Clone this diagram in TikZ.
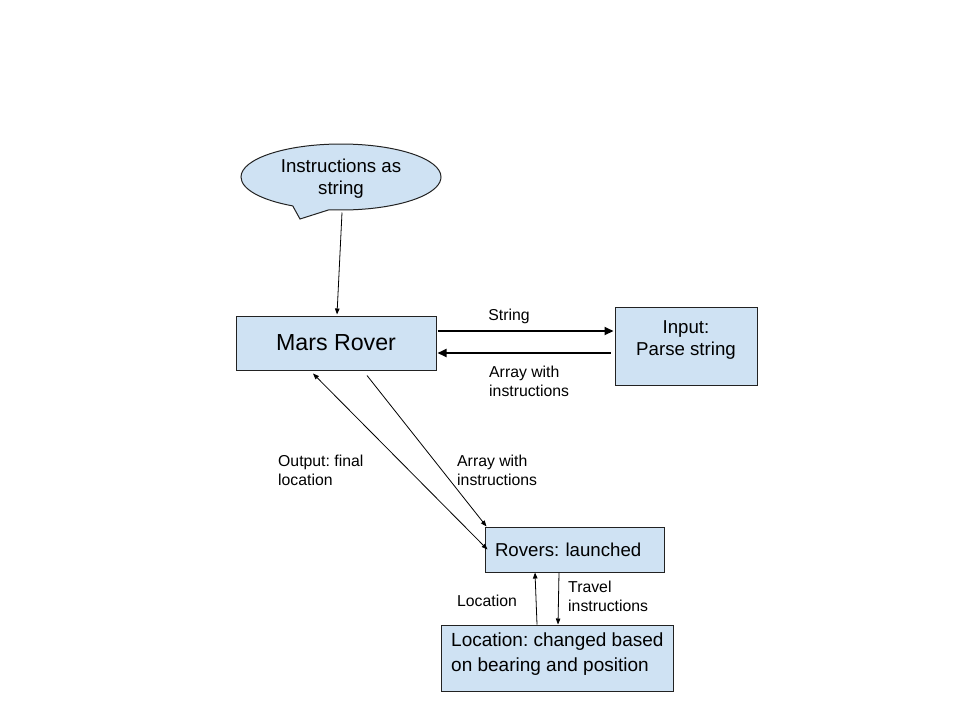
\documentclass[tikz,border=0pt]{standalone}
\usepackage{fontspec}
\setmainfont{Liberation Sans}
\usetikzlibrary{shapes.callouts,calc,arrows.meta}
\definecolor{boxfill}{HTML}{CFE2F3}
\definecolor{boxline}{HTML}{222222}
\begin{document}
\frenchspacing
\begin{tikzpicture}[x=1pt,y=-1pt,
  box/.style={draw=boxline,fill=boxfill,line width=1pt,inner sep=0pt,align=center,
    font=\fontsize{18.67}{23.5}\selectfont},
  boxtext/.style={inner sep=0pt,font=\fontsize{18.67}{22}\selectfont},
  lbl/.style={inner sep=0pt,align=left,font=\fontsize{15.8}{19.5}\selectfont},
  thin/.style={draw=black,line width=0.8pt,-{Triangle[length=6pt,width=4.5pt]}},
  thick/.style={draw=black,line width=2pt,-{Triangle[length=9pt,width=8pt]}}]
\useasboundingbox (0,0) rectangle (960,720);
% callout
\node[ellipse callout,draw=boxline,fill=boxfill,line width=1pt,minimum width=200pt,minimum height=66pt,
  inner sep=0pt,callout absolute pointer={(300,219)},callout pointer arc=22] (cal) at (341,177) {};
\node[boxtext,align=center] (calt) at (341,179) {Instructions as\\string};
% boxes
\node[box,minimum width=200pt,minimum height=54pt,font=\fontsize{23.2}{27}\selectfont] (mr) at (336,343) {Mars Rover};
\node[box,minimum width=142pt,minimum height=78pt] (inp) at (686,346) {};
\node[boxtext,align=center] (inpt) at (686,340) {Input:\\Parse string};
\node[box,minimum width=179pt,minimum height=45pt,text width=159pt,align=left] (rov) at (574.5,549.5) {Rovers: launched};
\node[box,minimum width=232pt,minimum height=66pt] (loc) at (557,658) {};
\node[boxtext,align=left,anchor=west,font=\fontsize{19}{25}\selectfont] (loct) at (451,654) {Location: changed based\\on bearing and position};
% labels
\node[lbl] (lstr) at (509,316) {String};
\node[lbl,anchor=west] (lret) at (489,381.5) {Array with\\instructions};
\node[lbl,anchor=west] (lout) at (278,470.5) {Output: final\\location};
\node[lbl,anchor=west] (larr) at (457,470.5) {Array with\\instructions};
\node[lbl] (lloc) at (487,601) {Location};
\node[lbl,anchor=west] (ltrav) at (568,596.5) {Travel\\instructions};
% connectors
\draw[thin] ($(cal.south)+(1,2)$) -- ($(mr.north)+(1,-1)$);
\draw[thick] ($(mr.east)+(1,-12)$) -- ($(inp.west)+(-1,-15)$);
\draw[thick] ($(inp.west)+(-4,7)$) -- ($(mr.east)+(1,10)$);
\draw[thin] ($(mr.south)+(31,5)$) -- ($(rov.north west)+(2,0)$);
\draw[thin,{Triangle[length=6pt,width=4.5pt]}-{Triangle[length=6pt,width=4.5pt]}] ($(mr.south)+(-23,3)$) -- ($(rov.west)+(3,0)$);
\draw[thin] ($(loc.north)+(-20,0)$) -- ($(rov.south)+(-39.5,0)$);
\draw[thin] ($(rov.south)+(-15.5,0)$) -- ($(loc.north)+(1,0)$);
\end{tikzpicture}
\end{document}
